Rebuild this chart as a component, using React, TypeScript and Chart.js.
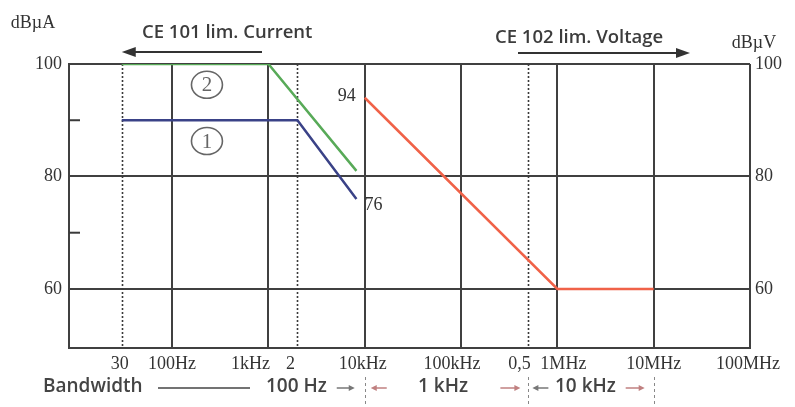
import { useEffect, useRef } from "react";
import { Chart, registerables } from "chart.js";

Chart.register(...registerables);

// ---- data ----
const curve2Freq = [30, 1000, 8200];
const curve2Level = [100, 100, 81];
const curve1Freq = [30, 2000, 8200];
const curve1Level = [90, 90, 76];
const ce102Freq = [10000, 1000000, 10000000];
const ce102Level = [94, 60, 60];

const xGridSolid = [100, 1e3, 1e4, 1e5, 1e6, 1e7, 1e8];
const xGridDotted = [30, 2000, 500000];
const xTickValues = [30, 100, 1000, 2000, 10000, 100000, 500000, 1e6, 1e7, 1e8];
const xTickLabels = ["30", "100Hz", "1kHz", "2", "10kHz", "100kHz", "0,5", "1MHz", "10MHz", "100MHz"];
const yTickValues = [60, 80, 100];
const yTickLabels = ["60", "80", "100"];
const yMinorTicks = [70, 90];
const bandwidthBounds = [1e4, 500000, 1e7];

const SERIF = "'Liberation Serif', 'DejaVu Serif', serif";
const SANS = "'Open Sans', 'Noto Sans', sans-serif";

// horizontal nudges for x tick labels (style only)
const xLabelNudge = [-2, 0, -18, -7, -2, -9, -9, 6, 0, -2];

function pts(xs: number[], ys: number[]) {
  return xs.map((x, i) => ({ x, y: ys[i] }));
}

function arrow(ctx: CanvasRenderingContext2D, x1: number, y: number, x2: number, head: number, hh: number, color: string, lw: number) {
  ctx.save();
  ctx.strokeStyle = color;
  ctx.fillStyle = color;
  ctx.lineWidth = lw;
  const dir = Math.sign(x2 - x1);
  ctx.beginPath();
  ctx.moveTo(x1, y);
  ctx.lineTo(x2 - dir * head * 0.8, y);
  ctx.stroke();
  ctx.beginPath();
  ctx.moveTo(x2, y);
  ctx.lineTo(x2 - dir * head, y - hh);
  ctx.lineTo(x2 - dir * head, y + hh);
  ctx.closePath();
  ctx.fill();
  ctx.restore();
}

const decorPlugin = {
  id: "decor",
  beforeDatasetsDraw(chart: any) {
    const { ctx, chartArea } = chart;
    const xs = chart.scales.x;
    const ys = chart.scales.y;
    ctx.save();
    // dotted verticals
    ctx.strokeStyle = "#3a3a3a";
    ctx.lineWidth = 1.6;
    ctx.setLineDash([2, 2]);
    xGridDotted.forEach((v) => {
      const px = Math.round(xs.getPixelForValue(v)) + 0.5;
      ctx.beginPath();
      ctx.moveTo(px, chartArea.top);
      ctx.lineTo(px, chartArea.bottom);
      ctx.stroke();
    });
    ctx.setLineDash([]);
    // minor ticks on left axis
    ctx.lineWidth = 2;
    yMinorTicks.forEach((v) => {
      const py = ys.getPixelForValue(v);
      ctx.beginPath();
      ctx.moveTo(chartArea.left, py);
      ctx.lineTo(chartArea.left + 11, py);
      ctx.stroke();
    });
    ctx.restore();
  },
  afterDraw(chart: any) {
    const { ctx, chartArea } = chart;
    const xs = chart.scales.x;
    const ys = chart.scales.y;
    ctx.save();
    ctx.fillStyle = "#333";
    ctx.textBaseline = "middle";

    // x tick labels
    ctx.font = `18px ${SERIF}`;
    ctx.textAlign = "center";
    xTickValues.forEach((v, i) => {
      const px = xs.getPixelForValue(v) + xLabelNudge[i];
      ctx.fillText(xTickLabels[i], px, chartArea.bottom + 16);
    });

    // y tick labels both sides
    yTickValues.forEach((v, i) => {
      const py = ys.getPixelForValue(v);
      ctx.textAlign = "right";
      ctx.fillText(yTickLabels[i], chartArea.left - 7, py);
      ctx.textAlign = "left";
      ctx.fillText(yTickLabels[i], chartArea.right + 5, py);
    });

    // units
    ctx.font = `18px ${SERIF}`;
    ctx.textAlign = "center";
    ctx.fillText("dBµA", 33, 23);
    ctx.fillText("dBµV", 754, 43);

    // value labels
    ctx.textAlign = "right";
    ctx.fillText(String(ce102Level[0]), xs.getPixelForValue(ce102Freq[0]) - 9, ys.getPixelForValue(ce102Level[0]) - 1);
    ctx.textAlign = "left";
    ctx.fillText(String(curve1Level[2]), xs.getPixelForValue(curve1Freq[2]) + 8, ys.getPixelForValue(curve1Level[2]) + 6);

    // circled numbers
    const circ = (label: string, v: number) => {
      const cx = xs.getPixelForValue(230);
      const cy = ys.getPixelForValue(v);
      ctx.save();
      ctx.strokeStyle = "#666";
      ctx.lineWidth = 1.6;
      ctx.beginPath();
      ctx.ellipse(cx, cy, 15.5, 13.5, 0, 0, Math.PI * 2);
      ctx.stroke();
      ctx.fillStyle = "#666";
      ctx.textAlign = "center";
      ctx.font = `21px ${SERIF}`;
      ctx.fillText(label, cx, cy + 1);
      ctx.restore();
    };
    circ("2", 96.3);
    circ("1", 86.3);

    // CE 101 / CE 102 headers
    ctx.fillStyle = "#3c3c3c";
    ctx.font = `600 18.5px ${SANS}`;
    ctx.textAlign = "left";
    ctx.fillText("CE 101 lim. Current", 142, 33);
    ctx.fillText("CE 102 lim. Voltage", 495, 38);
    arrow(ctx, 262, 52, xs.getPixelForValue(30), 14, 5, "#333", 2);
    arrow(ctx, 518, 53, 690, 14, 5, "#333", 2);

    // bandwidth row
    const by = 387;
    ctx.fillStyle = "#444";
    ctx.font = `600 19px ${SANS}`;
    ctx.fillText("Bandwidth", 43, by);
    ctx.strokeStyle = "#444";
    ctx.lineWidth = 1.5;
    ctx.beginPath();
    ctx.moveTo(158, by + 1);
    ctx.lineTo(250, by + 1);
    ctx.stroke();
    ctx.fillText("100 Hz", 266, by);
    ctx.fillText("1 kHz", 418, by);
    ctx.fillText("10 kHz", 555, by);
    const b0 = xs.getPixelForValue(bandwidthBounds[0]);
    const b1 = xs.getPixelForValue(bandwidthBounds[1]);
    const b2 = xs.getPixelForValue(bandwidthBounds[2]);
    arrow(ctx, b0 - 28, by + 1, b0 - 10, 6, 3, "#777", 1.5);
    arrow(ctx, b0 + 22, by + 1, b0 + 6, 6, 3, "#c08080", 1.5);
    arrow(ctx, b1 - 28, by + 1, b1 - 8, 6, 3, "#c08080", 1.5);
    arrow(ctx, b1 + 20, by + 1, b1 + 4, 6, 3, "#777", 1.5);
    arrow(ctx, b2 - 28, by + 1, b2 - 9, 6, 3, "#c08080", 1.5);

    // dashed bandwidth boundaries
    ctx.strokeStyle = "#888";
    ctx.lineWidth = 1;
    ctx.setLineDash([3, 3]);
    bandwidthBounds.forEach((v) => {
      const px = Math.round(xs.getPixelForValue(v)) + 0.5;
      ctx.beginPath();
      ctx.moveTo(px, chartArea.bottom + 29);
      ctx.lineTo(px, 407);
      ctx.stroke();
    });
    ctx.restore();
  },
};

export default function App() {
  const ref = useRef<HTMLCanvasElement | null>(null);
  useEffect(() => {
    if (!ref.current) return;
    const chart = new Chart(ref.current, {
      type: "line",
      data: {
        datasets: [
          {
            label: "2",
            data: pts(curve2Freq, curve2Level),
            borderColor: "rgb(88,170,88)",
            borderWidth: 2.5,
            pointRadius: 0,
          },
          {
            label: "1",
            data: pts(curve1Freq, curve1Level),
            borderColor: "rgb(58,66,135)",
            borderWidth: 2.5,
            pointRadius: 0,
          },
          {
            label: "CE102",
            data: pts(ce102Freq, ce102Level),
            borderColor: "rgb(240,98,72)",
            borderWidth: 2.5,
            pointRadius: 0,
          },
        ],
      },
      options: {
        responsive: false,
        animation: false,
        layout: { padding: { left: 69, right: 45, top: 64, bottom: 59 } },
        plugins: { legend: { display: false }, tooltip: { enabled: false } },
        scales: {
          x: {
            type: "logarithmic",
            min: 8.5,
            max: 1e8,
            afterBuildTicks: (s: any) => {
              s.ticks = xGridSolid.map((v) => ({ value: v }));
            },
            ticks: { display: false },
            grid: { color: "#404040", lineWidth: 2, drawTicks: false },
            border: { color: "#404040", width: 2 },
          },
          y: {
            type: "linear",
            min: 49.5,
            max: 100,
            afterBuildTicks: (s: any) => {
              s.ticks = yTickValues.map((v) => ({ value: v }));
            },
            ticks: { display: false },
            grid: { color: "#404040", lineWidth: 2, drawTicks: false },
            border: { color: "#404040", width: 2 },
          },
        },
      },
      plugins: [decorPlugin],
    });
    return () => chart.destroy();
  }, []);
  return (
    <div style={{ position: "absolute", left: 0, top: 0, width: 795, height: 407, background: "#fff" }}>
      <canvas ref={ref} width={795} height={407} />
    </div>
  );
}
